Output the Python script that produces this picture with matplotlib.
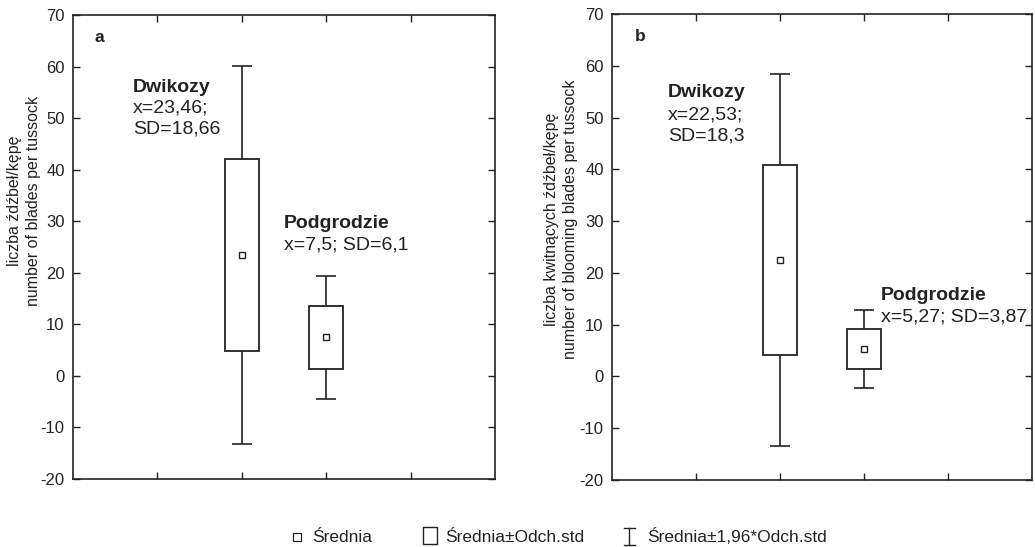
import matplotlib
matplotlib.use("Agg")
import matplotlib.pyplot as plt
from matplotlib.patches import Rectangle
from matplotlib.lines import Line2D
import numpy as np

plt.rcParams.update({"font.family": ["Liberation Sans", "DejaVu Sans"], "font.size": 11,
                     "axes.unicode_minus": False})

sites = ["Dwikozy", "Podgrodzie"]
# panel a: blades per tussock, panel b: blooming blades per tussock
mean_a = [23.46, 7.5]
sd_a = [18.66, 6.1]
mean_b = [22.53, 5.27]
sd_b = [18.3, 3.87]
notes_a = [["x=23,46;", "SD=18,66"], ["x=7,5; SD=6,1"]]
notes_b = [["x=22,53;", "SD=18,3"], ["x=5,27; SD=3,87"]]
ylab_a = "liczba źdźbeł/kępę\nnumber of blades per tussock"
ylab_b = "liczba kwitnących źdźbeł/kępę\nnumber of blooming blades per tussock"
legend_labels = ["Średnia", "Średnia±Odch.std", "Średnia±1,96*Odch.std"]

xpos = [2, 3]
BW = 0.4
INK = "#222222"


def panel(ax, means, sds, ylab, letter, letter_x, notes, note_xy, step):
    for x, m, s in zip(xpos, means, sds):
        ax.errorbar(x, m, yerr=1.96 * s, fmt="none", ecolor=INK,
                    elinewidth=1.2, capsize=7.5, capthick=1.2, zorder=1)
        ax.add_patch(Rectangle((x - BW / 2, m - s), BW, 2 * s, facecolor="white",
                               edgecolor=INK, lw=1.3, zorder=2))
        ax.plot(x, m, "s", ms=5, mfc="white", mec=INK, mew=1.0, zorder=3)
    for (tx, ty), name, lines in zip(note_xy, sites, notes):
        ax.text(tx, ty, name, fontsize=14, fontweight="bold", va="center", ha="left",
                color=INK)
        for i, ln in enumerate(lines):
            ax.text(tx, ty - step * (i + 1), ln, fontsize=14, va="center", ha="left",
                    color=INK)
    ax.text(letter_x, 65.6, letter, fontsize=12.5, fontweight="bold", va="center", color=INK)
    ax.set_xlim(0, 5)
    ax.set_ylim(-20, 70)
    ax.set_xticks([1, 2, 3, 4])
    ax.set_xticklabels([])
    ax.set_yticks(np.arange(-20, 71, 10))
    ax.tick_params(direction="in", top=True, right=True, length=5, width=1.0,
                   labelsize=12, colors=INK)
    ax.tick_params(axis="y", pad=6)
    for sp in ax.spines.values():
        sp.set_linewidth(1.2)
        sp.set_color(INK)
    ax.set_ylabel(ylab, fontsize=11.5, linespacing=1.35, color=INK)


fig = plt.figure(figsize=(10.35, 5.47), dpi=100)
ax1 = fig.add_axes([0.0705, 0.1243, 0.408, 0.8483])
ax2 = fig.add_axes([0.5913, 0.1225, 0.4058, 0.8517])

panel(ax1, mean_a, sd_a, ylab_a, "a", 0.26, notes_a, [(0.71, 56.0), (2.5, 29.5)], 4.1)
panel(ax2, mean_b, sd_b, ylab_b, "b", 0.27, notes_b, [(0.667, 54.8), (3.2, 15.7)], 4.2)
ax1.yaxis.set_label_coords(-0.075, 0.60)
ax2.yaxis.set_label_coords(-0.08, 0.56)

# legend drawn by hand at the bottom (figure pixel positions / size)
W, H = 1035.0, 547.0
def fx(px): return px / W
def fy(py): return 1 - py / H

fig.add_artist(Line2D([fx(297)], [fy(536.5)], ls="none", marker="s", ms=6,
                      mfc="white", mec=INK, mew=0.9, transform=fig.transFigure))
fig.add_artist(Rectangle((fx(423), fy(544)), fx(437) - fx(423), fy(527) - fy(544),
                         facecolor="white", edgecolor=INK, lw=1.0,
                         transform=fig.transFigure))
fig.add_artist(Line2D([fx(629), fx(629)], [fy(528), fy(545)], color=INK, lw=1.0,
                      transform=fig.transFigure))
for y in (528, 545):
    fig.add_artist(Line2D([fx(623.5), fx(634.5)], [fy(y), fy(y)], color=INK, lw=1.0,
                          transform=fig.transFigure))
for x0, lab in zip([312, 445, 647], legend_labels):
    fig.text(fx(x0), fy(537), lab, fontsize=12.5, va="center", ha="left", color=INK)

fig.savefig("out.png", dpi=100)
